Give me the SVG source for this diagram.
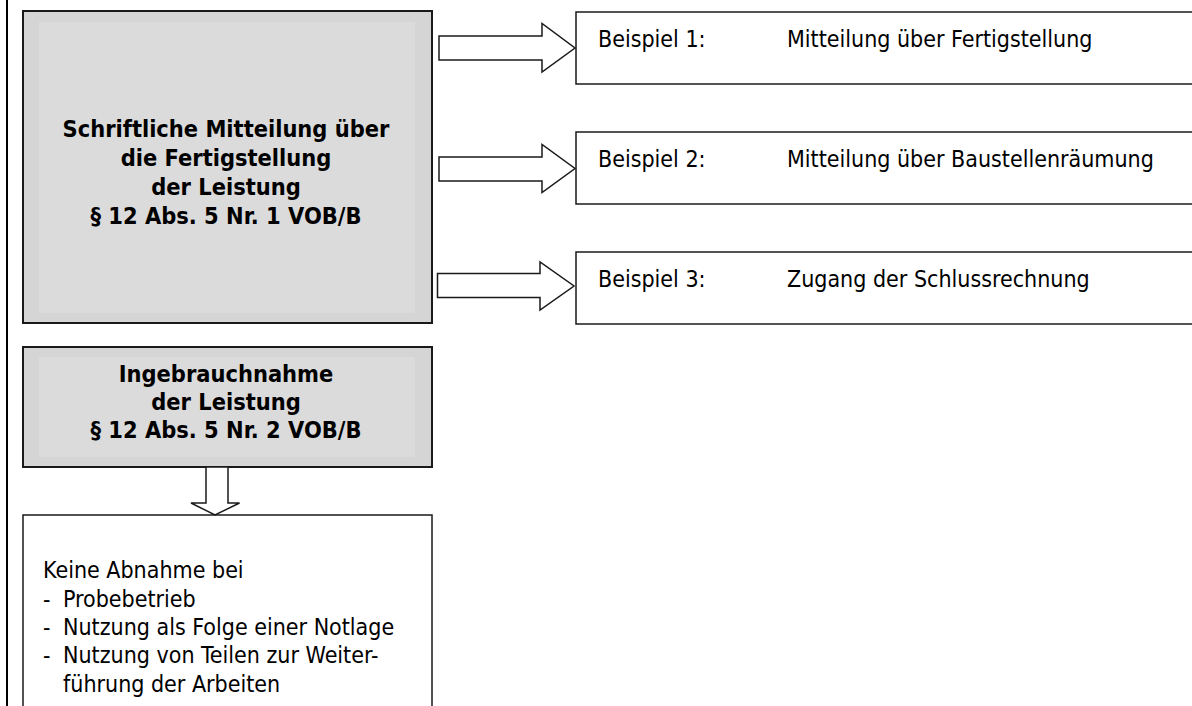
<svg xmlns="http://www.w3.org/2000/svg" width="1192" height="706" viewBox="0 0 1192 706">
<style>
  .box { fill: #ffffff; stroke: #1a1a1a; stroke-width: 1.5; }
  .gbox { fill: #d5d5d5; stroke: #1a1a1a; stroke-width: 2; }
  .ginner { fill: #dbdbdb; stroke: none; }
  .arrow { fill: #ffffff; stroke: #1a1a1a; stroke-width: 1.5; stroke-linejoin: miter; }
  .b { font-family: "DejaVu Sans Condensed", "DejaVu Sans", sans-serif; font-weight: bold; font-size: 23.4px; fill: #000; text-anchor: middle; }
  .t { font-family: "DejaVu Sans Condensed", "DejaVu Sans", sans-serif; font-size: 23px; fill: #000; }
</style>
<rect x="0" y="0" width="1192" height="706" fill="#ffffff"/>
<line x1="7" y1="0" x2="7" y2="706" stroke="#000" stroke-width="2"/>

<g id="node-schriftliche">
  <rect class="gbox" x="23" y="11" width="409" height="312"/>
  <rect class="ginner" x="39" y="22" width="376" height="291"/>
  <text class="b" x="226" y="137">Schriftliche Mitteilung über</text>
  <text class="b" x="226" y="166">die Fertigstellung</text>
  <text class="b" x="226" y="195">der Leistung</text>
  <text class="b" x="226" y="224">§ 12 Abs. 5 Nr. 1 VOB/B</text>
</g>

<g id="node-beispiel1">
  <rect class="box" x="576" y="12" width="620" height="72"/>
  <text class="t" x="598" y="47">Beispiel 1:</text>
  <text class="t" x="787" y="47">Mitteilung über Fertigstellung</text>
</g>
<g id="node-beispiel2">
  <rect class="box" x="576" y="132" width="620" height="72"/>
  <text class="t" x="598" y="167">Beispiel 2:</text>
  <text class="t" x="787" y="167">Mitteilung über Baustellenräumung</text>
</g>
<g id="node-beispiel3">
  <rect class="box" x="576" y="252" width="620" height="72"/>
  <text class="t" x="598" y="287">Beispiel 3:</text>
  <text class="t" x="787" y="287">Zugang der Schlussrechnung</text>
</g>

<g id="node-ingebrauchnahme">
  <rect class="gbox" x="23" y="347" width="409" height="120"/>
  <rect class="ginner" x="39" y="357" width="376" height="100"/>
  <text class="b" x="226" y="382">Ingebrauchnahme</text>
  <text class="b" x="226" y="410">der Leistung</text>
  <text class="b" x="226" y="438">§ 12 Abs. 5 Nr. 2 VOB/B</text>
</g>

<g id="node-keine-abnahme">
  <rect class="box" x="23" y="515" width="409" height="200"/>
  <text class="t" x="43" y="578">Keine Abnahme bei</text>
  <text class="t" x="43" y="607">-</text><text class="t" x="63" y="607">Probebetrieb</text>
  <text class="t" x="43" y="635">-</text><text class="t" x="63" y="635">Nutzung als Folge einer Notlage</text>
  <text class="t" x="43" y="663">-</text><text class="t" x="63" y="663">Nutzung von Teilen zur Weiter-</text>
  <text class="t" x="63" y="692">führung der Arbeiten</text>
</g>

<g id="connectors">
  <polygon class="arrow" points="439,36 542,36 542,23.5 575,48 542,72 542,60 439,60"/>
  <polygon class="arrow" points="439,157 542,157 542,144.5 575,168.5 542,192.5 542,181 439,181"/>
  <polygon class="arrow" points="437.5,273.5 540,273.5 540,262 574,286 540,310 540,297.5 437.5,297.5"/>
  <polygon class="arrow" points="206,467 228,467 228,503 239.5,503 215,515 191,503 206,503"/>
</g>
</svg>
